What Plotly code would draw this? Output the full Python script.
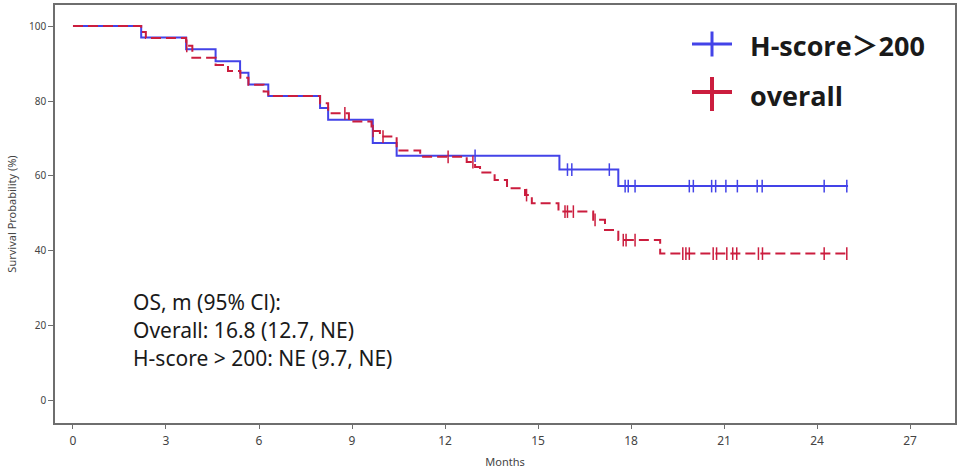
import plotly.graph_objects as go

# ---------------- data ----------------
# H-score > 200 : step times (months) and survival (%)
hscore_times = [0, 2.2, 3.65, 4.6, 5.39, 5.66, 6.3, 7.97, 8.23, 9.67, 10.44, 15.69, 17.59, 25.0]
hscore_surv = [100, 96.9, 93.8, 90.6, 87.5, 84.4, 81.3, 78.1, 75.0, 68.8, 65.4, 61.7, 57.3, 57.3]
hscore_censor = [12.97, 15.95, 16.09, 17.3, 17.81, 17.91, 18.13, 19.88, 20.01, 20.6, 20.73,
                 21.06, 21.43, 22.07, 22.23, 24.23, 24.96]

# overall
overall_times = [0, 2.2, 2.35, 3.65, 3.85, 4.6, 5.0, 5.4, 5.66, 6.15, 6.3, 7.97, 8.23, 8.9,
                 9.63, 9.9, 10.44, 11.2, 12.7, 12.97, 13.13, 13.6, 14.0, 14.58, 14.8, 15.66,
                 16.78, 17.16, 17.59, 18.94, 25.0]
overall_surv = [100, 98.4, 96.8, 94.7, 91.5, 89.6, 88.0, 86.2, 84.3, 82.5, 81.3, 79.4, 76.7, 74.5,
                72.0, 70.5, 66.8, 65.1, 63.7, 62.4, 60.9, 58.9, 56.7, 54.9, 52.7, 50.5,
                48.3, 45.6, 42.9, 39.3, 39.3]
overall_censor = [3.67, 8.77, 9.68, 10.0, 12.1, 12.9, 14.63, 15.87, 15.95, 16.14, 16.84, 17.75,
                  17.84, 18.13, 19.67, 19.77, 19.88, 20.65, 20.76, 21.09, 21.28, 21.41, 22.11,
                  22.24, 24.23, 24.96]

x_ticks = [0, 3, 6, 9, 12, 15, 18, 21, 24, 27]
y_ticks = [0, 20, 40, 60, 80, 100]

series_names = ["H-score＞200", "overall"]
annotation_lines = ["OS, m (95% Cl):", "Overall: 16.8 (12.7, NE)", "H-score > 200: NE (9.7, NE)"]

BLUE = "#4343e8"
RED = "#cb1d3e"


def surv_at(times, surv, t):
    val = surv[0]
    for ti, si in zip(times, surv):
        if ti <= t:
            val = si
        else:
            break
    return val


fig = go.Figure()

fig.add_trace(go.Scatter(x=hscore_times, y=hscore_surv, mode="lines", line_shape="hv",
                         line=dict(color=BLUE, width=2), showlegend=False, name=series_names[0]))
fig.add_trace(go.Scatter(x=hscore_censor, y=[surv_at(hscore_times, hscore_surv, t) for t in hscore_censor],
                         mode="markers", marker=dict(symbol="line-ns", size=9, line=dict(color=BLUE, width=1.5)),
                         showlegend=False))
fig.add_trace(go.Scatter(x=overall_times, y=overall_surv, mode="lines", line_shape="hv",
                         line=dict(color=RED, width=2, dash="10px,5px"), showlegend=False, name=series_names[1]))
fig.add_trace(go.Scatter(x=overall_censor, y=[surv_at(overall_times, overall_surv, t) for t in overall_censor],
                         mode="markers", marker=dict(symbol="line-ns", size=9, line=dict(color=RED, width=1.5)),
                         showlegend=False))

W, H = 960, 470
L, R, T, B = 55, 5, 5, 47
PW, PH = W - L - R, H - T - B


def px(x):
    return (x - L) / PW


def py(y):
    return (H - B - y) / PH


# legend drawn manually (large crosses)
shapes = []
legend_items = [(44, BLUE, 3, 31.5, 56.5), (92, RED, 4, 77, 111)]
for yc, col, w, y0, y1 in legend_items:
    shapes.append(dict(type="line", xref="paper", yref="paper", x0=px(692), x1=px(732), y0=py(yc), y1=py(yc),
                       line=dict(color=col, width=w)))
    shapes.append(dict(type="line", xref="paper", yref="paper", x0=px(712), x1=px(712), y0=py(y0), y1=py(y1),
                       line=dict(color=col, width=w)))

annotations = []
for name, yc in zip(series_names, [45, 95]):
    annotations.append(dict(text="<b>" + name + "</b>", xref="paper", yref="paper", x=px(748), y=py(yc),
                            xanchor="left", yanchor="middle", showarrow=False,
                            font=dict(family="Open Sans, Noto Sans CJK SC", size=27, color="#1a1a1a")))
for line, yc in zip(annotation_lines, [302, 330, 358]):
    annotations.append(dict(text=line, xref="paper", yref="paper", x=px(131), y=py(yc),
                            xanchor="left", yanchor="middle", showarrow=False,
                            font=dict(family="Noto Sans", size=21, color="#1a1a1a")))

fig.update_layout(
    width=W, height=H,
    margin=dict(l=L, r=R, t=T, b=B, autoexpand=False),
    paper_bgcolor="white", plot_bgcolor="white",
    shapes=shapes, annotations=annotations,
    showlegend=False,
    xaxis=dict(range=[-0.58, 28.45], tickvals=x_ticks, ticktext=[str(v) for v in x_ticks], automargin=False,
               showgrid=False, zeroline=False, showline=True, mirror=True, linecolor="#6e6e6e", linewidth=1.5,
               ticks="outside", ticklen=4, tickcolor="#6e6e6e", tickwidth=1, ticklabelstandoff=2,
               tickfont=dict(family="Noto Sans", size=12, color="#444"),
               title=dict(text="Months", font=dict(family="Noto Sans", size=11, color="#444"), standoff=10)),
    yaxis=dict(range=[-5.87, 105.6], tickvals=y_ticks, ticktext=[str(v) for v in y_ticks], automargin=False,
               showgrid=False, zeroline=False, showline=True, mirror=True, linecolor="#6e6e6e", linewidth=1.5,
               ticks="outside", ticklen=5, tickcolor="#6e6e6e", tickwidth=1,
               tickfont=dict(family="Noto Sans", size=10, color="#444"),
               title=dict(text="Survival Probability (%)", font=dict(family="Noto Sans", size=11, color="#444"),
                          standoff=10)),
)

fig.write_html("out.html", config={"displayModeBar": False},
               post_script="document.body.style.margin='0';document.body.style.overflow='hidden';")
